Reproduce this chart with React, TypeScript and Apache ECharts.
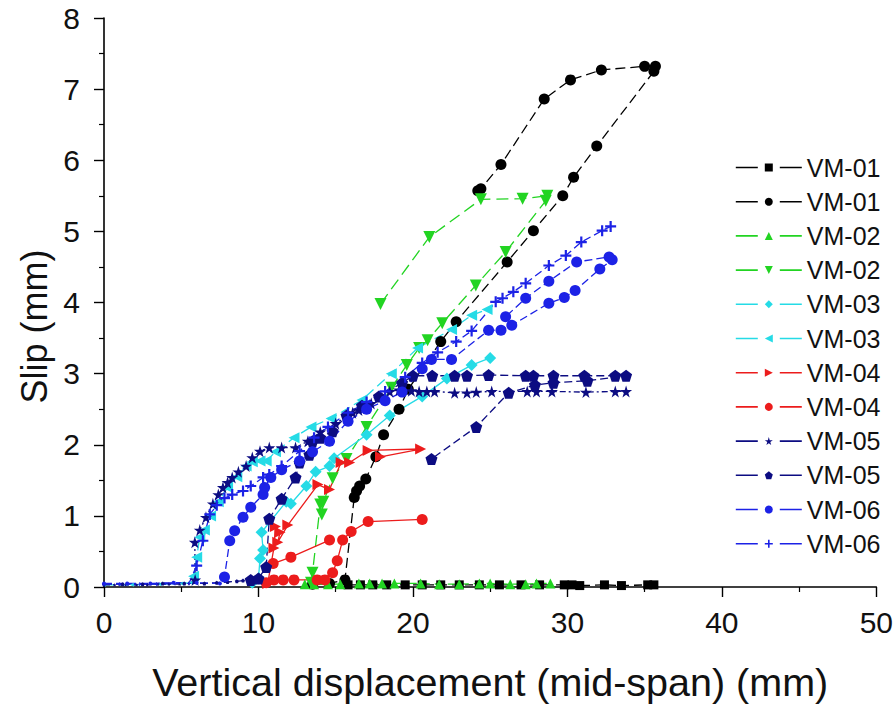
import React, { useEffect, useRef } from "react";
import * as echarts from "echarts";

// ---- data (x: vertical displacement mm, y: slip mm) ----
const xTicks = [0, 10, 20, 30, 40, 50];
const yTicks = [0, 1, 2, 3, 4, 5, 6, 7, 8];

const vm01Squares = [
  [15.8, 0.03], [16.6, 0.03], [17.4, 0.03], [18.3, 0.03], [19.5, 0.03], [20.6, 0.03],
  [21.8, 0.03], [23.0, 0.03], [24.3, 0.03], [25.6, 0.03], [27.0, 0.03], [28.2, 0.03],
  [29.8, 0.03], [30.3, 0.03], [30.8, 0.02], [32.4, 0.03], [33.5, 0.02], [35.2, 0.03], [35.6, 0.03],
];
const vm01Circles = [
  [13.5, 0.04], [14.6, 0.05], [15.6, 0.1], [16.2, 1.26], [16.35, 1.35], [16.55, 1.42],
  [16.95, 1.52], [17.6, 1.83], [18.1, 2.14], [19.1, 2.5], [19.7, 2.78], [21.8, 3.45],
  [22.8, 3.73], [26.1, 4.57], [27.8, 5.01], [29.7, 5.5], [30.4, 5.76], [31.9, 6.2],
  [35.6, 7.25], [35.7, 7.32], [35.0, 7.32], [32.2, 7.27], [30.2, 7.13], [28.5, 6.86],
  [25.7, 5.94], [24.4, 5.6], [24.2, 5.57],
];
const vm02Up = [
  [13.0, 0.04], [13.6, 0.04], [14.5, 0.04], [15.3, 0.04], [16.5, 0.05], [17.2, 0.05],
  [18.0, 0.05], [18.8, 0.05], [20.5, 0.05], [21.7, 0.04], [23.0, 0.04], [24.3, 0.05],
  [25.0, 0.05], [26.3, 0.04], [27.3, 0.04], [28.0, 0.05], [28.9, 0.05],
];
const vm02Down = [
  [13.4, 0.06], [13.5, 0.2], [14.0, 1.16], [14.1, 1.02], [14.2, 1.2], [14.8, 1.53],
  [15.7, 1.8], [17.0, 2.25], [18.6, 2.8], [19.6, 3.12], [20.4, 3.36], [20.95, 3.47],
  [21.9, 3.71], [24.07, 4.24], [26.0, 4.71], [28.6, 5.43], [28.7, 5.5], [27.1, 5.46],
  [24.4, 5.45], [21.06, 4.92], [17.9, 3.98],
];
const vm03Diamonds = [
  [9.6, 0.06], [10.0, 0.12], [10.1, 0.4], [10.3, 0.52], [10.2, 0.77], [11.8, 1.2],
  [12.1, 1.17], [13.1, 1.42], [13.7, 1.62], [14.6, 1.7], [14.9, 1.81], [17.0, 2.14],
  [18.5, 2.41], [20.6, 2.68], [22.2, 2.93], [23.8, 3.12], [25.0, 3.22],
];
const vm03Left = [
  [0, 0.03], [1.8, 0.03], [3.6, 0.04], [5.0, 0.05], [5.6, 0.06], [5.8, 0.15], [6.0, 0.42],
  [6.2, 0.7], [6.5, 0.8], [6.9, 1.0], [7.4, 1.2],
  [8.0, 1.4], [8.6, 1.55], [9.2, 1.7], [9.6, 1.76], [10.1, 1.77], [10.5, 1.77], [11.1, 1.9],
  [12.3, 2.1], [13.4, 2.25], [14.7, 2.37], [16.7, 2.63], [18.6, 3.0], [20.3, 3.36],
  [22.5, 3.62], [23.8, 3.82], [24.8, 3.9],
];
const vm04Right = [
  [10.6, 0.05], [11.0, 0.55], [11.1, 0.85], [11.4, 0.77], [11.25, 0.63], [11.9, 0.87],
  [13.85, 1.44], [14.6, 1.37], [15.35, 1.75], [15.9, 1.75], [17.1, 1.92], [20.5, 1.94], [17.9, 1.83],
];
const vm04CirclesMain = [
  [10.5, 0.06], [11.0, 0.1], [11.6, 0.1], [12.3, 0.1], [13.8, 0.1], [14.3, 0.1], [14.8, 0.2],
  [15.1, 0.37], [15.45, 0.66], [16.0, 0.78], [17.1, 0.92], [20.6, 0.95],
];
const vm04CirclesReturn = [[10.95, 0.33], [12.1, 0.42], [14.6, 0.66]];
const vm05Stars = [
  [0, 0.03], [0.7, 0.03], [1.4, 0.03], [2.1, 0.03], [2.8, 0.03], [3.5, 0.04], [4.2, 0.04],
  [4.9, 0.04], [5.5, 0.05], [5.9, 0.1], [5.88, 0.63], [6.2, 0.8], [6.6, 0.98], [7.05, 1.17],
  [7.4, 1.3], [7.7, 1.4], [8.0, 1.47], [8.3, 1.54], [8.7, 1.62], [9.2, 1.7], [9.6, 1.82],
  [10.1, 1.91], [10.7, 1.96], [11.5, 1.96], [12.4, 1.96], [13.2, 2.05], [14.0, 2.18],
  [15.0, 2.3], [16.1, 2.45], [16.5, 2.49], [17.3, 2.58], [18.5, 2.75], [19.1, 2.77],
  [19.9, 2.76], [20.4, 2.75], [20.9, 2.75], [21.4, 2.75], [22.7, 2.73], [23.5, 2.73],
  [24.1, 2.74], [25.1, 2.75], [27.4, 2.75], [28.0, 2.75], [29.0, 2.75], [31.2, 2.74],
  [33.1, 2.75], [33.8, 2.75],
];
const vm05Pentagons = [
  [0, 0.04], [1.2, 0.04], [2.5, 0.04], [3.8, 0.05], [5.2, 0.05],
  [6.5, 0.05], [7.3, 0.06], [8.0, 0.07], [8.6, 0.08], [9.0, 0.09], [9.5, 0.1], [10.0, 0.12],
  [10.5, 0.28], [10.7, 0.96],
  [11.5, 1.24], [12.4, 1.54], [12.66, 1.75], [13.3, 1.86], [13.5, 2.05], [14.0, 2.1],
  [14.8, 2.19], [15.7, 2.41], [16.7, 2.55], [17.8, 2.68], [19.3, 2.87], [20.0, 2.97],
  [21.25, 2.97], [22.7, 2.97], [23.5, 2.97], [24.9, 2.98], [27.3, 2.97], [27.8, 2.97],
  [29.1, 2.97], [31.1, 2.97], [33.1, 2.97], [33.8, 2.97], [31.3, 2.9], [29.1, 2.87],
  [27.9, 2.84], [26.2, 2.73], [24.1, 2.25], [21.2, 1.8],
];
const vm06Circles = [
  [0, 0.05], [1.5, 0.05], [3.0, 0.05], [4.5, 0.06], [6.0, 0.06],
  [7.5, 0.05], [7.8, 0.14], [8.14, 0.65], [8.46, 0.79], [9.0, 0.98], [9.5, 1.12],
  [10.3, 1.3], [10.4, 1.4], [10.8, 1.54], [11.5, 1.65], [12.66, 1.77], [13.5, 1.9],
  [14.6, 2.05], [15.8, 2.33], [17.0, 2.5], [18.2, 2.62], [19.3, 2.74], [20.6, 3.07],
  [21.2, 3.2], [22.5, 3.2], [24.9, 3.61], [25.7, 3.61], [26.4, 3.68], [28.8, 3.99],
  [29.8, 4.07], [30.5, 4.17], [32.1, 4.47], [32.9, 4.6], [32.7, 4.64], [30.6, 4.57],
  [28.8, 4.3], [27.3, 4.06], [26.0, 3.8],
];
const vm06Crosses = [
  [0, 0.04], [1.0, 0.04], [2.3, 0.04], [3.4, 0.04], [4.6, 0.05],
  [5.5, 0.05], [6.0, 0.3], [6.4, 0.65], [6.85, 1.02], [7.3, 1.15], [7.8, 1.25], [8.3, 1.3],
  [9.0, 1.35], [9.5, 1.42], [10.3, 1.54], [10.7, 1.58], [11.5, 1.7], [12.66, 1.91],
  [13.6, 2.1], [14.5, 2.25], [15.8, 2.45], [17.0, 2.6], [18.2, 2.75], [19.5, 2.95],
  [20.6, 3.15], [21.6, 3.3], [22.8, 3.45], [23.8, 3.6], [25.36, 4.01], [25.8, 4.06],
  [26.5, 4.15], [27.3, 4.27], [28.8, 4.52], [29.9, 4.66], [30.9, 4.85], [32.25, 5.01], [32.8, 5.07],
];

const STAR = "path://M50,0 L61,35 L98,35 L68,57 L79,91 L50,70 L21,91 L32,57 L2,35 L39,35 Z";
const PENTA = "path://M50,0 L98,35 L79,91 L21,91 L2,35 Z";
const CROSS = "path://M40,0 L60,0 L60,40 L100,40 L100,60 L60,60 L60,100 L40,100 L40,60 L0,60 L0,40 L40,40 Z";

const BLACK = "#000000";
const GREEN = "#22d422";
const CYAN = "#25dbe6";
const RED = "#ec1c1c";
const NAVY = "#0c0c82";
const BLUE = "#1c22e6";

function mk(name: string, data: number[][], symbol: string, color: string, size: number, dash: any, rotate = 0) {
  return {
    name,
    type: "line",
    data,
    symbol,
    symbolRotate: rotate,
    symbolSize: (v: number[]) => (v[0] < 9.6 && v[1] < 0.1 ? 4 : size),
    itemStyle: { color },
    lineStyle: { color, width: 1.3, type: dash },
    emphasis: { disabled: true },
    z: 2,
  };
}

export default function App() {
  const ref = useRef<HTMLDivElement>(null);
  useEffect(() => {
    document.body.style.margin = "0";
    const chart = echarts.init(ref.current!, null, { renderer: "svg" });
    const font = "'Liberation Sans', Arial, sans-serif";
    const series = [
      mk("VM-01 a", vm01Squares, "rect", BLACK, 9, [8, 5]),
      mk("VM-01 b", vm01Circles, "circle", BLACK, 11, [10, 5]),
      mk("VM-02 a", vm02Up, "triangle", GREEN, 10, [8, 5]),
      mk("VM-02 b", vm02Down, "triangle", GREEN, 12, [12, 6], 180),
      mk("VM-03 a", vm03Diamonds, "diamond", CYAN, 12, "solid"),
      mk("VM-03 b", vm03Left, "triangle", CYAN, 11, [10, 5], 90),
      mk("VM-04 a", vm04Right, "triangle", RED, 11, "solid", -90),
      mk("VM-04 b", vm04CirclesMain, "circle", RED, 11, "solid"),
      mk("VM-04 b", vm04CirclesReturn, "circle", RED, 11, "solid"),
      mk("VM-05 a", vm05Stars, STAR, NAVY, 12, [6, 3, 2, 3]),
      mk("VM-05 b", vm05Pentagons, PENTA, NAVY, 12, [8, 4]),
      mk("VM-06 a", vm06Circles, "circle", BLUE, 11, [8, 4]),
      mk("VM-06 b", vm06Crosses, CROSS, BLUE, 11, [8, 4]),
    ];
    chart.setOption({
      animation: false,
      backgroundColor: "#ffffff",
      grid: { left: 104, right: 18, top: 18, bottom: 117, containLabel: false },
      legend: {
        orient: "vertical",
        left: 730,
        top: 150,
        itemWidth: 66,
        itemHeight: 10,
        itemGap: 9.2,
        data: ["VM-01 a", "VM-01 b", "VM-02 a", "VM-02 b", "VM-03 a", "VM-03 b", "VM-04 a", "VM-04 b", "VM-05 a", "VM-05 b", "VM-06 a", "VM-06 b"],
        formatter: (n: string) => n.split(" ")[0],
        textStyle: { fontSize: 25, color: "#111", fontFamily: font, lineHeight: 25 },
        lineStyle: { type: [22, 22], width: 1.6 },
        selectedMode: false,
      },
      xAxis: {
        type: "value",
        min: xTicks[0],
        max: xTicks[xTicks.length - 1],
        interval: 10,
        name: "Vertical displacement (mid-span) (mm)",
        nameLocation: "middle",
        nameGap: 75,
        nameTextStyle: { fontSize: 39.5, color: "#111", fontFamily: font },
        axisLine: { lineStyle: { color: "#000", width: 1.6 } },
        axisTick: { length: 10, lineStyle: { color: "#000", width: 1.4 } },
        minorTick: { show: true, splitNumber: 2, length: 5, lineStyle: { color: "#000", width: 1.2 } },
        axisLabel: { fontSize: 30, color: "#111", fontFamily: font, margin: 20 },
        splitLine: { show: false },
      },
      yAxis: {
        type: "value",
        min: yTicks[0],
        max: yTicks[yTicks.length - 1],
        interval: 1,
        name: "Slip (mm)",
        nameLocation: "middle",
        nameGap: 52,
        nameTextStyle: { fontSize: 36, color: "#111", fontFamily: font, padding: [0, 48, 0, 0] },
        axisLine: { show: true, lineStyle: { color: "#000", width: 1.6 } },
        axisTick: { show: true, length: 10, lineStyle: { color: "#000", width: 1.4 } },
        minorTick: { show: true, splitNumber: 2, length: 5, lineStyle: { color: "#000", width: 1.2 } },
        axisLabel: { fontSize: 30, color: "#111", fontFamily: font, margin: 24 },
        splitLine: { show: false },
      },
      series,
    });
    return () => chart.dispose();
  }, []);
  return <div ref={ref} style={{ width: 896, height: 707 }} />;
}
